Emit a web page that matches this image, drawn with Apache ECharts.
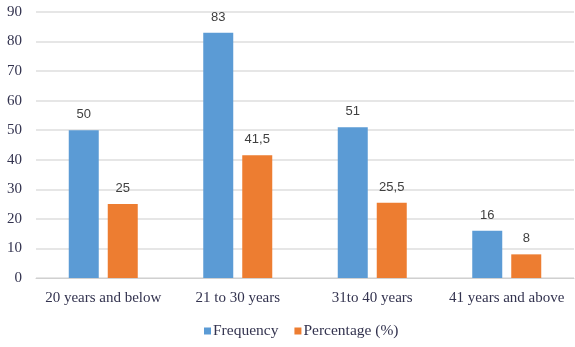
<!DOCTYPE html>
<html><head><meta charset="utf-8">
<script src="https://cdn.jsdelivr.net/npm/echarts@6/dist/echarts.min.js"></script>
<style>html,body{margin:0;padding:0;background:#fff}#c{width:575px;height:347px}</style>
</head><body><div id="c"></div>
<script>
const categories = ["20 years and below", "21 to 30 years", "31to 40 years", "41 years and above"];
const frequency = [50, 83, 51, 16];
const percentage = [25, 41.5, 25.5, 8];
const yTicks = [0, 10, 20, 30, 40, 50, 60, 70, 80, 90];

const chart = echarts.init(document.getElementById('c'));
const labelFmt = p => String(p.value).replace('.', ',');
const serif = 'Liberation Serif';
const textCol = '#33334f';
chart.setOption({
  animation: false,
  grid: { left: 36, right: 1, top: 12, bottom: 69 },
  legend: {
    bottom: 3, left: 199,
    itemWidth: 7, itemHeight: 7, itemGap: 16,
    icon: 'rect',
    textStyle: { fontFamily: serif, fontSize: 15.5, color: textCol, padding: [0, 0, 0, -3] },
    data: ['Frequency', 'Percentage (%)']
  },
  xAxis: {
    type: 'category', data: categories,
    axisLine: { lineStyle: { color: '#d0d0d0', width: 1 } },
    axisTick: { show: false },
    axisLabel: { interval: 0, hideOverlap: false, fontFamily: serif, fontSize: 15, color: textCol, margin: 13 }
  },
  yAxis: {
    type: 'value', min: yTicks[0], max: yTicks[yTicks.length - 1], interval: 10,
    axisLine: { show: false }, axisTick: { show: false },
    splitLine: { lineStyle: { color: '#e6e6e6', width: 2 } },
    axisLabel: { fontFamily: serif, fontSize: 15, color: textCol, margin: 14 }
  },
  series: [
    { name: 'Frequency', type: 'bar', data: frequency, barWidth: 30, barGap: '30%',
      itemStyle: { color: '#5B9BD5' },
      label: { show: true, position: 'top', distance: 9, fontFamily: 'Liberation Sans', fontSize: 13, color: '#404040', formatter: labelFmt } },
    { name: 'Percentage (%)', type: 'bar', data: percentage, barWidth: 30,
      itemStyle: { color: '#ED7D31' },
      label: { show: true, position: 'top', distance: 9, fontFamily: 'Liberation Sans', fontSize: 13, color: '#404040', formatter: labelFmt } }
  ]
});
</script></body></html>
